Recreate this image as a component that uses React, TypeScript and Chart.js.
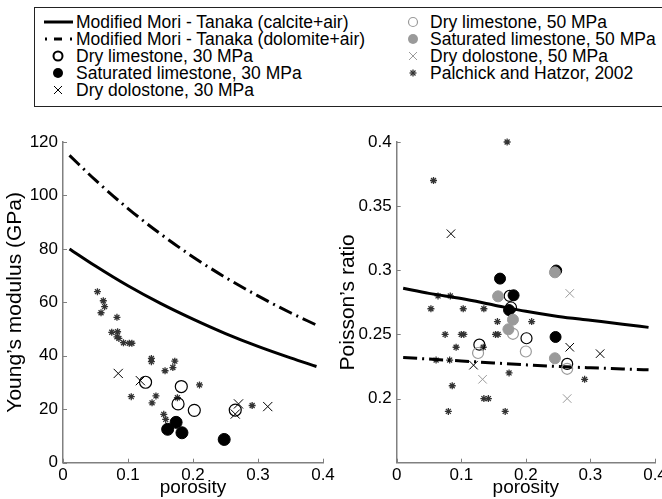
import React, { useEffect, useRef } from "react";
import { Chart, registerables } from "chart.js";

Chart.register(...registerables);

const FONT = '"Liberation Sans", Arial, Helvetica, sans-serif';

// ---------------- data ----------------
// model curves (porosity vs property)
const curvePhi = [0.01, 0.05, 0.1, 0.15, 0.2, 0.25, 0.3, 0.35, 0.39];
const calciteE = [80, 73.6, 66.2, 59.6, 53.7, 48.3, 43.5, 39.2, 36];
const dolomiteE = [115, 105.7, 95.1, 85.6, 77.0, 69.3, 62.4, 56.1, 51.5];
const calciteNu = [0.286, 0.282, 0.278, 0.273, 0.268, 0.264, 0.261, 0.258, 0.2555];
const dolomiteNu = [0.232, 0.2308, 0.2293, 0.2278, 0.2263, 0.225, 0.224, 0.2231, 0.2224];

// Young's modulus panel
const dryLime30PhiE = [0.127, 0.182, 0.177, 0.202, 0.265];
const dryLime30E = [30.1, 28.5, 22.0, 19.6, 19.7];
const satLime30PhiE = [0.161, 0.174, 0.183, 0.248];
const satLime30E = [12.5, 15.1, 11.2, 8.7];
const dryDolo30PhiE = [0.085, 0.119, 0.27, 0.265, 0.315];
const dryDolo30E = [33.4, 30.7, 22.0, 18.2, 21.0];
const palchickPhiE = [0.053, 0.062, 0.064, 0.0585, 0.083, 0.075, 0.084, 0.083, 0.086, 0.093, 0.102, 0.106, 0.136, 0.136, 0.157, 0.169, 0.172, 0.21, 0.105, 0.143, 0.137, 0.176, 0.155, 0.158, 0.291];
const palchickE = [64.0, 60.6, 58.4, 56.1, 54.4, 48.8, 49.0, 47.1, 46.5, 44.9, 44.7, 44.7, 39.0, 37.8, 34.4, 35.6, 38.0, 29.1, 24.7, 25.0, 22.4, 24.3, 18.1, 16.2, 21.4];

// Poisson's ratio panel
const dryLime30PhiNu = [0.128, 0.201, 0.264, 0.175, 0.177];
const dryLime30Nu = [0.242, 0.247, 0.227, 0.28, 0.271];
const satLime30PhiNu = [0.16, 0.181, 0.174, 0.247, 0.246];
const satLime30Nu = [0.2935, 0.2805, 0.269, 0.2998, 0.248];
const dryDolo30PhiNu = [0.084, 0.119, 0.268, 0.315];
const dryDolo30Nu = [0.3285, 0.226, 0.24, 0.235];
const dryLime50PhiNu = [0.126, 0.18, 0.2, 0.264];
const dryLime50Nu = [0.2355, 0.2505, 0.2367, 0.2232];
const satLime50PhiNu = [0.157, 0.18, 0.173, 0.245, 0.245];
const satLime50Nu = [0.2797, 0.2615, 0.254, 0.2984, 0.2314];
const dryDolo50PhiNu = [0.133, 0.264, 0.268];
const dryDolo50Nu = [0.215, 0.2, 0.282];
const palchickPhiNu = [0.171, 0.057, 0.064, 0.083, 0.053, 0.103, 0.135, 0.156, 0.209, 0.075, 0.1, 0.104, 0.153, 0.157, 0.092, 0.134, 0.061, 0.082, 0.174, 0.291, 0.086, 0.135, 0.142, 0.08, 0.168];
const palchickNu = [0.4, 0.37, 0.28, 0.28, 0.27, 0.27, 0.27, 0.26, 0.26, 0.25, 0.25, 0.25, 0.25, 0.25, 0.24, 0.24, 0.23, 0.23, 0.22, 0.215, 0.21, 0.2, 0.2, 0.19, 0.19];

// axes
const xTickValues = [0, 0.1, 0.2, 0.3, 0.4];
const xTickLabels = ["0", "0.1", "0.2", "0.3", "0.4"];
const eTickValues = [0, 20, 40, 60, 80, 100, 120];
const eTickLabels = ["0", "20", "40", "60", "80", "100", "120"];
const nuTickValues = [0.2, 0.25, 0.3, 0.35, 0.4];
const nuTickLabels = ["0.2", "0.25", "0.3", "0.35", "0.4"];

// legend
const legendLeftLabels = [
  "Modified Mori - Tanaka (calcite+air)",
  "Modified Mori - Tanaka (dolomite+air)",
  "Dry limestone, 30 MPa",
  "Saturated limestone, 30 MPa",
  "Dry dolostone, 30 MPa",
];
const legendRightLabels = [
  "Dry limestone, 50 MPa",
  "Saturated limestone, 50 MPa",
  "Dry dolostone, 50 MPa",
  "Palchick and Hatzor, 2002",
];

// ---------------- helpers ----------------
const pts = (xs: number[], ys: number[]) => xs.map((x, i) => ({ x, y: ys[i] }));

const GRAY = "#9a9a9a";

const lineDs = (label: string, data: any[], dash: number[], order: number) => ({
  label,
  data,
  showLine: true,
  borderColor: "#000",
  borderWidth: 3,
  borderDash: dash,
  pointRadius: 0,
  pointHoverRadius: 0,
  fill: false,
  cubicInterpolationMode: "monotone",
  order,
});

const markDs = (
  label: string,
  data: any[],
  style: string,
  radius: number,
  fill: string,
  stroke: string,
  bw: number,
  order: number
) => ({
  label,
  data,
  showLine: false,
  pointStyle: style,
  pointRadius: radius,
  pointHoverRadius: radius,
  pointBackgroundColor: fill,
  pointBorderColor: stroke,
  pointBorderWidth: bw,
  backgroundColor: fill,
  borderColor: stroke,
  clip: false,
  order,
});

const innerTicks = {
  id: "innerTicks",
  afterDraw(chart: any) {
    const { ctx, chartArea, scales } = chart;
    ctx.save();
    ctx.strokeStyle = "#808080";
    ctx.lineWidth = 1;
    const xs = scales.x;
    const ys = scales.y;
    xs.ticks.forEach((t: any) => {
      const px = Math.round(xs.getPixelForValue(t.value)) + 0.5;
      ctx.beginPath();
      ctx.moveTo(px, chartArea.bottom);
      ctx.lineTo(px, chartArea.bottom - 4);
      ctx.stroke();
    });
    ys.ticks.forEach((t: any) => {
      const py = Math.round(ys.getPixelForValue(t.value)) + 0.5;
      ctx.beginPath();
      ctx.moveTo(chartArea.left, py);
      ctx.lineTo(chartArea.left + 4, py);
      ctx.stroke();
    });
    ctx.restore();
  },
};

type Spec = {
  left: number;
  top: number;
  w: number;
  h: number;
  padding: { left: number; top: number; right: number; bottom: number };
  yWidth: number;
  xHeight: number;
  yMin: number;
  yMax: number;
  yTicks: number[];
  yLabels: string[];
  yTitle: string;
  yTitlePad: number;
  datasets: any[];
};

function Plot({ spec }: { spec: Spec }) {
  const ref = useRef<HTMLCanvasElement>(null);
  useEffect(() => {
    const chart = new Chart(ref.current as HTMLCanvasElement, {
      type: "scatter",
      data: { datasets: spec.datasets },
      options: {
        responsive: false,
        animation: false,
        devicePixelRatio: 1,
        events: [],
        layout: { padding: spec.padding },
        plugins: { legend: { display: false }, tooltip: { enabled: false } },
        scales: {
          x: {
            type: "linear",
            min: 0,
            max: 0.4,
            afterBuildTicks: (s: any) => {
              s.ticks = xTickValues.map((v) => ({ value: v }));
            },
            ticks: {
              callback: (_v: any, i: number) => xTickLabels[i],
              font: { family: FONT, size: 17 },
              color: "#000",
              padding: 2,
              maxRotation: 0,
              autoSkip: false,
            },
            grid: { display: false, drawTicks: false },
            border: { display: true, color: "#808080", width: 1.5 },
            title: {
              display: true,
              text: "porosity",
              font: { family: FONT, size: 19 },
              color: "#000",
              padding: { top: 0, bottom: 0 },
            },
            afterFit: (s: any) => {
              s.height = spec.xHeight;
              s.paddingLeft = 0;
              s.paddingRight = 0;
            },
          },
          y: {
            type: "linear",
            min: spec.yMin,
            max: spec.yMax,
            afterBuildTicks: (s: any) => {
              s.ticks = spec.yTicks.map((v) => ({ value: v }));
            },
            ticks: {
              callback: (_v: any, i: number) => spec.yLabels[i],
              font: { family: FONT, size: 17 },
              color: "#000",
              padding: 5,
              autoSkip: false,
            },
            grid: { display: false, drawTicks: false },
            border: { display: true, color: "#808080", width: 1.5 },
            title: {
              display: true,
              text: spec.yTitle,
              font: { family: FONT, size: 21 },
              color: "#000",
              padding: { top: spec.yTitlePad, bottom: 0 },
            },
            afterFit: (s: any) => {
              s.width = spec.yWidth;
              s.paddingTop = 0;
              s.paddingBottom = 0;
            },
          },
        },
      } as any,
      plugins: [innerTicks],
    });
    return () => chart.destroy();
  }, []);
  return (
    <canvas
      ref={ref}
      width={spec.w}
      height={spec.h}
      style={{ position: "absolute", left: spec.left, top: spec.top, width: spec.w, height: spec.h }}
    />
  );
}

const DASHDOT = [14, 5, 2, 5];

const leftSpec: Spec = {
  left: 0,
  top: 120,
  w: 345,
  h: 379,
  padding: { left: 0, top: 22, right: 22, bottom: 0 },
  yWidth: 63,
  xHeight: 36.3,
  yMin: 0,
  yMax: 120,
  yTicks: eTickValues,
  yLabels: eTickLabels,
  yTitle: "Young\u2019s modulus (GPa)",
  yTitlePad: 3,
  datasets: [
    markDs("Dry dolostone, 30 MPa", pts(dryDolo30PhiE, dryDolo30E), "crossRot", 6.5, "#000", "#000", 1, 1),
    markDs("Saturated limestone, 30 MPa", pts(satLime30PhiE, satLime30E), "circle", 6, "#000", "#000", 1, 2),
    markDs("Dry limestone, 30 MPa", pts(dryLime30PhiE, dryLime30E), "circle", 6, "rgba(0,0,0,0)", "#000", 1.2, 3),
    lineDs(legendLeftLabels[0], pts(curvePhi, calciteE), [], 5),
    lineDs(legendLeftLabels[1], pts(curvePhi, dolomiteE), DASHDOT, 6),
    markDs("Palchick and Hatzor, 2002", pts(palchickPhiE, palchickE), "star", 3.5, "#333", "#333", 1.3, 7),
  ],
};

const rightSpec: Spec = {
  left: 331,
  top: 120,
  w: 331,
  h: 379,
  padding: { left: 0, top: 22, right: 5.3, bottom: 0 },
  yWidth: 65.7,
  xHeight: 36.3,
  yMin: 0.15,
  yMax: 0.4,
  yTicks: nuTickValues,
  yLabels: nuTickLabels,
  yTitle: "Poisson\u2019s ratio",
  yTitlePad: 5,
  datasets: [
    markDs("Dry dolostone, 50 MPa", pts(dryDolo50PhiNu, dryDolo50Nu), "crossRot", 6, GRAY, GRAY, 1, 1),
    markDs("Saturated limestone, 50 MPa", pts(satLime50PhiNu, satLime50Nu), "circle", 5.5, GRAY, GRAY, 1, 2),
    markDs("Dry limestone, 50 MPa", pts(dryLime50PhiNu, dryLime50Nu), "circle", 5.5, "rgba(0,0,0,0)", GRAY, 1.2, 3),
    markDs("Dry dolostone, 30 MPa", pts(dryDolo30PhiNu, dryDolo30Nu), "crossRot", 6, "#000", "#000", 1, 4),
    markDs("Saturated limestone, 30 MPa", pts(satLime30PhiNu, satLime30Nu), "circle", 5.5, "#000", "#000", 1, 5),
    markDs("Dry limestone, 30 MPa", pts(dryLime30PhiNu, dryLime30Nu), "circle", 5.5, "rgba(0,0,0,0)", "#000", 1.2, 6),
    lineDs(legendLeftLabels[0], pts(curvePhi, calciteNu), [], 7),
    lineDs(legendLeftLabels[1], pts(curvePhi, dolomiteNu), DASHDOT, 8),
    markDs("Palchick and Hatzor, 2002", pts(palchickPhiNu, palchickNu), "star", 3.5, "#333", "#333", 1.3, 9),
  ],
};

// ---------------- legend ----------------
// row centres in page coordinates
const LEG_ROWS = [22, 39, 56, 73, 90];
const BOX_LEFT = 34;
const BOX_TOP = 7;

function LineSample({ kind }: { kind: string }) {
  return (
    <svg width="30" height="16" style={{ position: "absolute", left: 0, top: -8 }}>
      {kind === "solid" ? (
        <line x1="0" y1="8" x2="29" y2="8" stroke="#000" strokeWidth="3" />
      ) : (
        <g stroke="#000" strokeWidth="3">
          <line x1="1" y1="8" x2="3" y2="8" />
          <line x1="10" y1="8" x2="18" y2="8" />
          <line x1="26" y1="8" x2="28" y2="8" />
        </g>
      )}
    </svg>
  );
}

function Marker({ kind, color }: { kind: string; color: string }) {
  return (
    <svg width="16" height="16" style={{ position: "absolute", left: -8, top: -8 }}>
      {kind === "open" && <circle cx="8" cy="8" r="4.5" fill="none" stroke={color} strokeWidth={color === "#000" ? 2 : 1.2} />}
      {kind === "filled" && <circle cx="8" cy="8" r="5" fill={color} />}
      {kind === "x" && (
        <g stroke={color} strokeWidth="1">
          <line x1="4" y1="4" x2="12" y2="12" />
          <line x1="12" y1="4" x2="4" y2="12" />
        </g>
      )}
      {kind === "star" && (
        <g stroke="#333" strokeWidth="1.3">
          <line x1="8" y1="4.5" x2="8" y2="11.5" />
          <line x1="4.5" y1="8" x2="11.5" y2="8" />
          <line x1="5.5" y1="5.5" x2="10.5" y2="10.5" />
          <line x1="10.5" y1="5.5" x2="5.5" y2="10.5" />
        </g>
      )}
    </svg>
  );
}

const textStyle = (left: number, cy: number): React.CSSProperties => ({
  position: "absolute",
  left,
  top: cy - 11,
  height: 22,
  lineHeight: "22px",
  fontFamily: FONT,
  fontSize: 17.5,
  color: "#000",
  whiteSpace: "nowrap",
});

function Legend() {
  const leftKinds = ["solid", "dashdot", "open", "filled", "x"];
  const rightKinds = ["open", "filled", "x", "star"];
  return (
    <>
      <div
        style={{
          position: "absolute",
          left: BOX_LEFT,
          top: BOX_TOP,
          width: 660,
          height: 98,
          border: "1.5px solid #222",
          background: "#fff",
        }}
      />
      {legendLeftLabels.map((lab, i) => {
        const cy = LEG_ROWS[i];
        const k = leftKinds[i];
        const isLine = k === "solid" || k === "dashdot";
        return (
          <React.Fragment key={"l" + i}>
            <div style={{ position: "absolute", left: isLine ? 44 : 58, top: cy }}>
              {isLine ? <LineSample kind={k} /> : <Marker kind={k} color="#000" />}
            </div>
            <div style={textStyle(76, cy)}>{lab}</div>
          </React.Fragment>
        );
      })}
      {legendRightLabels.map((lab, i) => {
        const cy = LEG_ROWS[i];
        const k = rightKinds[i];
        return (
          <React.Fragment key={"r" + i}>
            <div style={{ position: "absolute", left: 413, top: cy }}>
              <Marker kind={k} color={k === "star" ? "#333" : GRAY} />
            </div>
            <div style={textStyle(430, cy)}>{lab}</div>
          </React.Fragment>
        );
      })}
    </>
  );
}

export default function App() {
  return (
    <div
      style={{
        position: "absolute",
        left: 0,
        top: 0,
        width: 662,
        height: 499,
        overflow: "hidden",
        background: "#fff",
      }}
    >
      <Legend />
      <Plot spec={leftSpec} />
      <Plot spec={rightSpec} />
    </div>
  );
}
